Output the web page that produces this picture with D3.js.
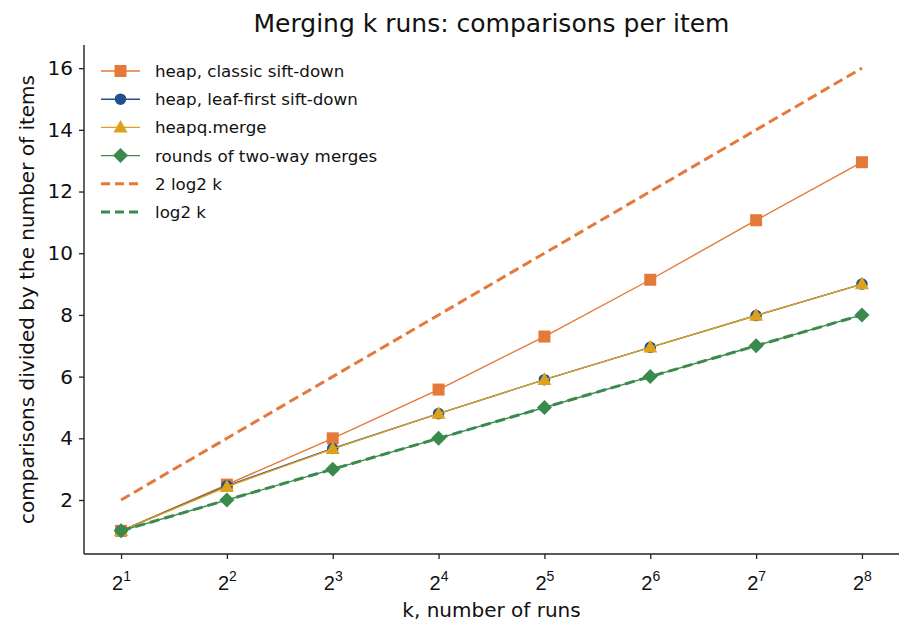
<!DOCTYPE html>
<html>
<head>
<meta charset="utf-8">
<script src="https://cdn.jsdelivr.net/npm/d3@7"></script>
<style>
  body { margin: 0; background: #fff; }
  svg { font-family: "DejaVu Sans", sans-serif; }
</style>
</head>
<body>
<script>
// data
var kExp = [1, 2, 3, 4, 5, 6, 7, 8]; // k = 2^kExp
var classicSift = [1.0, 2.5, 4.0, 5.58, 7.3, 9.14, 11.07, 12.95];
var leafFirstSift = [1.0, 2.46, 3.67, 4.8, 5.9, 6.95, 7.98, 9.0];
var heapqMerge = [1.0, 2.43, 3.66, 4.8, 5.9, 6.95, 7.98, 9.0];
var twoWayRounds = [1, 2, 3, 4, 5, 6, 7, 8];
var twoLog2k = [2, 4, 6, 8, 10, 12, 14, 16];
var log2k = [1, 2, 3, 4, 5, 6, 7, 8];
var yTicks = [2, 4, 6, 8, 10, 12, 14, 16];

var W = 913, H = 638;
var margin = {top: 45, right: 14, bottom: 84, left: 84};
var width = W - margin.left - margin.right,
    height = H - margin.top - margin.bottom;

var svg = d3.select("body").append("svg").attr("width", W).attr("height", H);
var g = svg.append("g").attr("transform", "translate(" + margin.left + "," + margin.top + ")");

//log2 scale, with matplotlib's 5% margins
var x = d3.scaleLog().base(2).domain([Math.pow(2, 0.65), Math.pow(2, 8.35)]).range([0, width]);
var y = d3.scaleLinear().domain([0.25, 16.75]).range([height, 0]);

var series = [
  {name: "heap, classic sift-down", values: classicSift, color: "#e4793a", marker: "square", dash: null, lw: 1.4},
  {name: "heap, leaf-first sift-down", values: leafFirstSift, color: "#22508f", marker: "circle", dash: null, lw: 1.4},
  {name: "heapq.merge", values: heapqMerge, color: "#dca21c", marker: "triangle", dash: null, lw: 1.4},
  {name: "rounds of two-way merges", values: twoWayRounds, color: "#3a8a4e", marker: "diamond", dash: null, lw: 1.4},
  {name: "2 log2 k", values: twoLog2k, color: "#e4793a", marker: null, dash: "10,5", lw: 3},
  {name: "log2 k", values: log2k, color: "#3a8a4e", marker: null, dash: "10,5", lw: 3}
];

function markerPath(type) {
  if (type == "square") return d3.symbol().type(d3.symbolSquare).size(144)();
  if (type == "circle") return d3.symbol().type(d3.symbolCircle).size(105)();
  if (type == "triangle") return "M0,-7.5L7,5.2L-7,5.2Z";
  if (type == "diamond") return "M0,-7.5L7.5,0L0,7.5L-7.5,0Z";
  return null;
}

var line = d3.line()
  .x(function(d, i) { return x(Math.pow(2, kExp[i])); })
  .y(function(d) { return y(d); });

series.forEach(function(s) {
  g.append("path")
    .attr("d", line(s.values))
    .attr("fill", "none")
    .attr("stroke", s.color)
    .attr("stroke-width", s.lw)
    .attr("stroke-dasharray", s.dash);
  if (s.marker) {
    g.selectAll(null).data(s.values).enter().append("path")
      .attr("d", markerPath(s.marker))
      .attr("transform", function(d, i) { return "translate(" + x(Math.pow(2, kExp[i])) + "," + y(d) + ")"; })
      .attr("fill", s.color);
  }
});

// axes
var xAxis = d3.axisBottom(x).tickValues(kExp.map(function(e) { return Math.pow(2, e); })).tickSize(5).tickPadding(4).tickFormat("");
var yAxis = d3.axisLeft(y).tickValues(yTicks).tickSize(5).tickPadding(6).tickFormat(d3.format("d"));

var gx = g.append("g").attr("transform", "translate(0," + height + ")").call(xAxis);
var gy = g.append("g").call(yAxis);
[gx, gy].forEach(function(a) {
  a.select(".domain").attr("stroke", "#222").attr("stroke-width", 1.4);
  a.selectAll(".tick line").attr("stroke", "#222").attr("stroke-width", 1.3);
});
gy.selectAll(".tick text").attr("font-size", 20).attr("fill", "#111").attr("font-family", "DejaVu Sans");
// remove outer tick caps of domain path
gx.select(".domain").attr("d", "M0,0H" + width);
gy.select(".domain").attr("d", "M0,0V" + height);

// power-of-two tick labels with superscripts
gx.selectAll(".tick").each(function(d, i) {
  var t = d3.select(this).append("text")
    .attr("y", 36).attr("fill", "#111").attr("text-anchor", "middle")
    .attr("font-size", 20);
  t.append("tspan").text("2");
  t.append("tspan").attr("font-size", 14).attr("dy", -9).text(kExp[i]);
});

// labels
svg.append("text").attr("x", margin.left + width / 2).attr("y", 617)
  .attr("text-anchor", "middle").attr("font-size", 20).attr("fill", "#111").text("k, number of runs");
svg.append("text").attr("transform", "translate(34," + (margin.top + height / 2) + ") rotate(-90)")
  .attr("text-anchor", "middle").attr("font-size", 20).attr("fill", "#111").text("comparisons divided by the number of items");
svg.append("text").attr("x", margin.left + width / 2).attr("y", 32)
  .attr("text-anchor", "middle").attr("font-size", 25).attr("fill", "#111").text("Merging k runs: comparisons per item");

// legend
var legend = svg.append("g").attr("transform", "translate(101,71)");
series.forEach(function(s, i) {
  var row = legend.append("g").attr("transform", "translate(0," + (i * 28.2) + ")");
  row.append("line").attr("x1", 0).attr("x2", 39).attr("y1", 0).attr("y2", 0)
    .attr("stroke", s.color).attr("stroke-width", s.lw).attr("stroke-dasharray", s.dash ? "9,5" : null);
  if (s.marker) {
    row.append("path").attr("d", markerPath(s.marker)).attr("transform", "translate(19.5,0)").attr("fill", s.color);
  }
  row.append("text").attr("x", 54).attr("y", 6).attr("font-size", 16.7).attr("fill", "#111").text(s.name);
});
</script>
</body>
</html>
